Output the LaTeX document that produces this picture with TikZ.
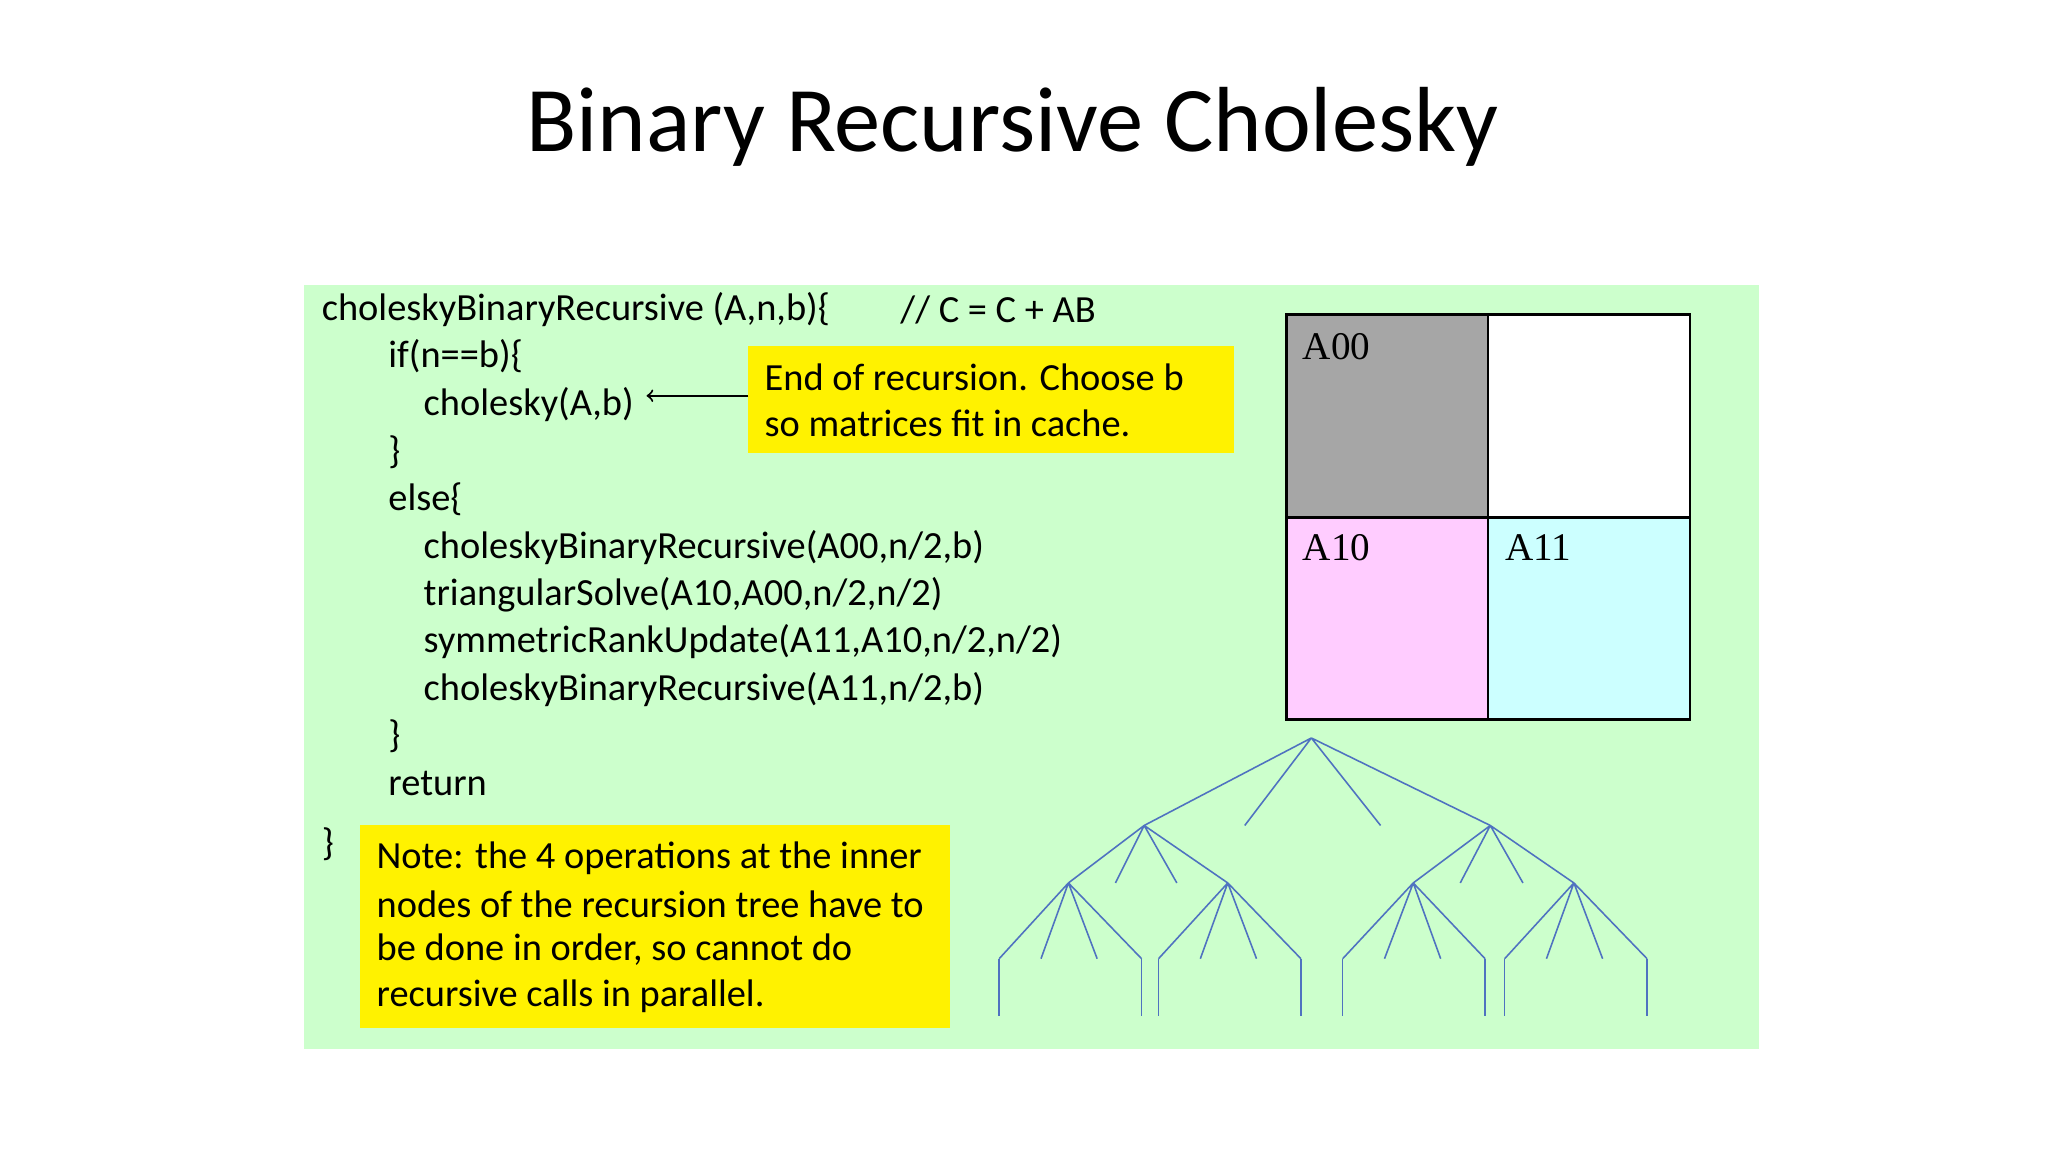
\documentclass[tikz,border=0pt]{standalone}
\usepackage{fontspec}
\setmainfont{Carlito}
\newfontfamily\timesf{Liberation Serif}
\definecolor{panel}{HTML}{CCFFCC}
\definecolor{treeblue}{HTML}{4F72C0}
\definecolor{pinkc}{HTML}{FFCCFF}
\definecolor{cyanc}{HTML}{CCFFFF}
\definecolor{grayc}{HTML}{A6A6A6}
\begin{document}
\begin{tikzpicture}[x=0.5pt,y=-0.5pt,
  code/.style={anchor=west,inner sep=0,font=\fontsize{14.7}{18}\selectfont},
  ybox/.style={fill=yellow,draw=none},
  mlab/.style={anchor=north west,inner sep=0,font=\timesf\fontsize{15}{18}\selectfont},
  tr/.style={draw=treeblue,line width=0.6pt}]
\useasboundingbox (0,0) rectangle (1568,882);
\fill[white] (0,0) rectangle (1568,882);
\node[font=\fontsize{35.4}{42}\selectfont] (title) at (775,97) {Binary Recursive Cholesky};
\fill[panel] (233,218) rectangle (1347,803);
% code
\node[code] (l1) at (246,237) {choleskyBinaryRecursive (A,n,b)\{};
\node[code] (cm) at (689,237) {// C = C + AB};
\node[code] (l2) at (297,273) {if(n==b)\{};
\node[code] (l3) at (324,310) {cholesky(A,b)};
\node[code] (l4) at (297,346) {\}};
\node[code] (l5) at (297,382) {else\{};
\node[code] (l6) at (324,419) {choleskyBinaryRecursive(A00,n/2,b)};
\node[code] (l7) at (324,455) {triangularSolve(A10,A00,n/2,n/2)};
\node[code] (l8) at (324,491) {symmetricRankUpdate(A11,A10,n/2,n/2)};
\node[code] (l9) at (324,528) {choleskyBinaryRecursive(A11,n/2,b)};
\node[code] (l10) at (297,564) {\}};
\node[code] (l11) at (297,600) {return};
\node[code] (l12) at (246,646) {\}};
% yellow boxes
\fill[ybox] (573,265) rectangle (945,347);
\node[code] (y1a) at (585,289) {End of recursion. Choose b};
\node[code] (y1b) at (585,324) {so matrices fit in cache.};
\coordinate (yl) at (573,303);
\coordinate (ar) at (495,303);
\draw[->,line width=0.8pt] (yl) -- (ar);
\fill[ybox] (276,632) rectangle (727,787);
\node[code] (y2a) at (288,657) {Note: the 4 operations at the inner};
\node[code] (y2b) at (288,692) {nodes of the recursion tree have to};
\node[code] (y2c) at (288,727) {be done in order, so cannot do};
\node[code] (y2d) at (288,763) {recursive calls in parallel.};
% matrix
\fill[grayc] (985,241) rectangle (1139,396);
\fill[white] (1139,241) rectangle (1294,396);
\fill[pinkc] (985,396) rectangle (1139,551);
\fill[cyanc] (1139,396) rectangle (1294,551);
\draw[line width=1pt] (985,241) rectangle (1294,551);
\draw[line width=1pt] (985,396) -- (1294,396);
\draw[line width=0.8pt] (1139,241) -- (1139,551);
\node[mlab] (a00) at (997,255) {A00};
\node[mlab] (a10) at (997,409) {A10};
\node[mlab] (a11) at (1152,409) {A11};
% tree
\coordinate (r) at (1004,565);
\coordinate (n1) at (876,632); \coordinate (n2) at (1141,632);
\coordinate (m1) at (953,632); \coordinate (m2) at (1057,632);
\draw[tr] (r)--(n1) (r)--(m1) (r)--(m2) (r)--(n2);
\coordinate (p1) at (818,676); \coordinate (p2) at (940,676);
\coordinate (p3) at (1082,676); \coordinate (p4) at (1205,676);
\coordinate (q1) at (854,676); \coordinate (q2) at (901,676);
\coordinate (q3) at (1118,676); \coordinate (q4) at (1166,676);
\draw[tr] (n1)--(p1) (n1)--(q1) (n1)--(q2) (n1)--(p2);
\draw[tr] (n2)--(p3) (n2)--(q3) (n2)--(q4) (n2)--(p4);
\foreach \p/\a/\b/\c/\d in {p1/765/797/840/874, p2/887/919/962/996, p3/1028/1060/1103/1137, p4/1152/1184/1227/1261}{
  \coordinate (\p a) at (\a,734); \coordinate (\p b) at (\b,734);
  \coordinate (\p c) at (\c,734); \coordinate (\p d) at (\d,734);
  \coordinate (\p A) at (\a,778); \coordinate (\p D) at (\d,778);
  \draw[tr] (\p)--(\p a) (\p)--(\p b) (\p)--(\p c) (\p)--(\p d);
  \draw[tr] (\p a)--(\p A) (\p d)--(\p D);
}
\end{tikzpicture}
\end{document}
